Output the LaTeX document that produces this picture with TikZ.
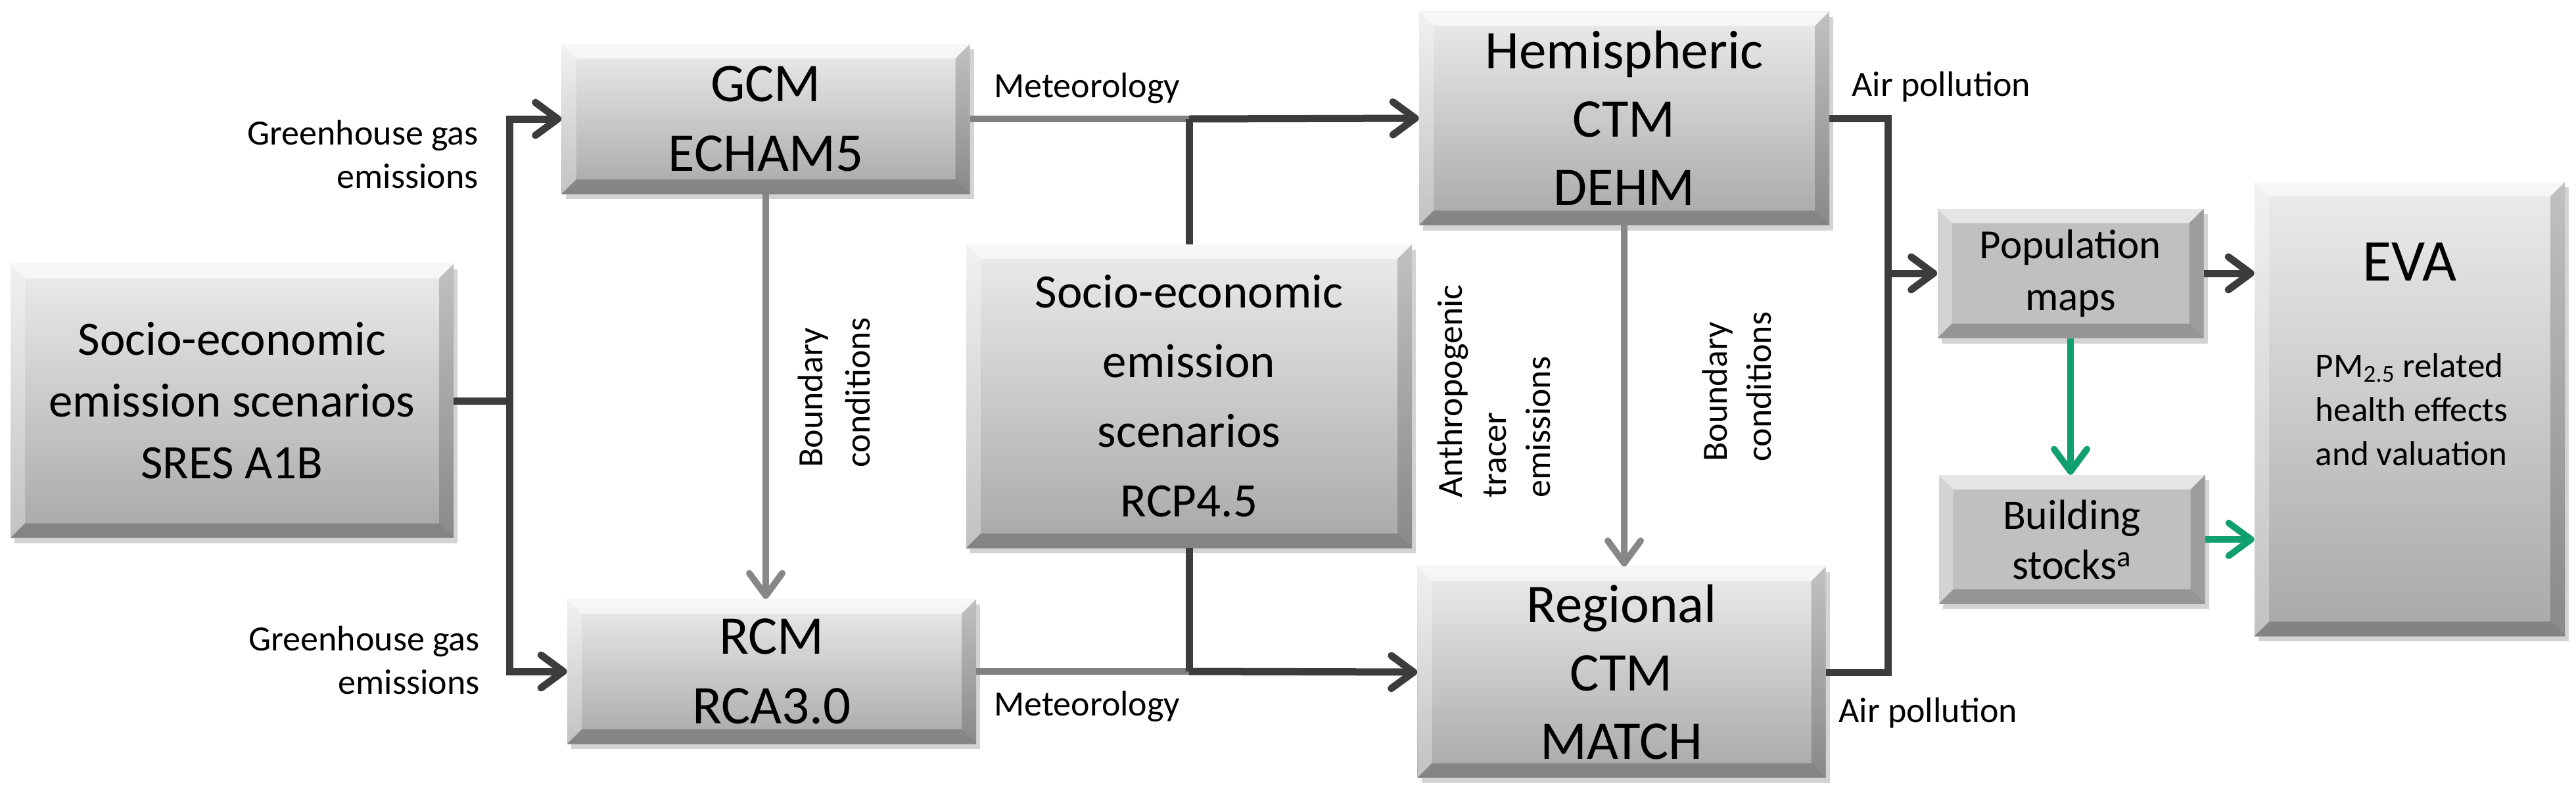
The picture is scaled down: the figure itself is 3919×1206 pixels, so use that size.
\documentclass[tikz,border=0pt]{standalone}
\usepackage{fontspec}
\setmainfont{Carlito}
\usetikzlibrary{arrows.meta,shadows,calc}
\definecolor{dkline}{RGB}{60,60,60}
\definecolor{grline}{RGB}{128,128,128}
\definecolor{bdline}{RGB}{135,135,135}
\definecolor{gnline}{RGB}{16,160,112}
\definecolor{boxtop}{RGB}{236,236,236}
\definecolor{boxbot}{RGB}{168,168,168}
\definecolor{flatbox}{RGB}{192,192,192}
\newcommand\bvw{11pt}
\tikzset{
  bevel/.style={path picture={
    \fill[white,opacity=.6] (path picture bounding box.north west) -- (path picture bounding box.north east)
      -- ($(path picture bounding box.north east)+(-\bvw,-\bvw)$) -- ($(path picture bounding box.north west)+(\bvw,-\bvw)$) -- cycle;
    \fill[white,opacity=.3] (path picture bounding box.north west) -- ($(path picture bounding box.north west)+(\bvw,-\bvw)$)
      -- ($(path picture bounding box.south west)+(\bvw,\bvw)$) -- (path picture bounding box.south west) -- cycle;
    \fill[black,opacity=.18] (path picture bounding box.north east) -- ($(path picture bounding box.north east)+(-\bvw,-\bvw)$)
      -- ($(path picture bounding box.south east)+(-\bvw,\bvw)$) -- (path picture bounding box.south east) -- cycle;
    \fill[black,opacity=.22] (path picture bounding box.south west) -- ($(path picture bounding box.south west)+(\bvw,\bvw)$)
      -- ($(path picture bounding box.south east)+(-\bvw,\bvw)$) -- (path picture bounding box.south east) -- cycle;
  }},
  mbox/.style={rectangle, inner sep=0pt, align=center, top color=boxtop, bottom color=boxbot, bevel,
    drop shadow={shadow xshift=3pt, shadow yshift=-4pt, opacity=.35}},
  fbox/.style={rectangle, inner sep=0pt, align=center, fill=flatbox, bevel,
    drop shadow={shadow xshift=3pt, shadow yshift=-4pt, opacity=.35}},
  bigtxt/.style={font=\fontsize{41.5}{53}\selectfont},
  midtxt/.style={font=\fontsize{36.5}{47}\selectfont},
  lab/.style={inner sep=0pt, font=\fontsize{27}{33}\selectfont},
  tip/.style={-{Straight Barb[length=17pt,width=25pt,round]}},
  dk/.style={draw=dkline, line width=5.5pt},
  gr/.style={draw=grline, line width=5pt},
  bd/.style={draw=bdline, line width=5pt},
  gn/.style={draw=gnline, line width=5pt},
}
\begin{document}
\begin{tikzpicture}[x=0.5pt,y=-0.5pt]
\useasboundingbox (0,0) rectangle (3919,1206);
% boxes
\node[mbox, midtxt, minimum width=337pt, minimum height=208.5pt] (sres) at (353,610)
  {Socio-economic\\emission scenarios\\SRES A1B};
\node[mbox, bigtxt, minimum width=310.5pt, minimum height=114pt] (gcm) at (1165,181) {GCM\\ECHAM5};
\node[mbox, bigtxt, minimum width=311pt, minimum height=110pt] (rcm) at (1174,1022) {RCM\\RCA3.0};
\node[mbox, midtxt, font=\fontsize{36.5}{53}\selectfont, minimum width=339pt, minimum height=231pt] (rcp) at (1809,603)
  {Socio-economic\\emission\\scenarios\\RCP4.5};
\node[mbox, bigtxt, font=\fontsize{41.5}{52}\selectfont, minimum width=312pt, minimum height=162.5pt] (hemi) at (2471,180)
  {Hemispheric\\CTM\\DEHM};
\node[mbox, bigtxt, font=\fontsize{41.5}{52}\selectfont, minimum width=310.5pt, minimum height=160.5pt] (reg) at (2467,1023)
  {Regional\\CTM\\MATCH};
\node[fbox, font=\fontsize{31.5}{39.5}\selectfont, minimum width=202.5pt, minimum height=98.5pt] (pop) at (3150,416)
  {Population\\maps};
\node[fbox, font=\fontsize{32}{38}\selectfont, minimum width=202.5pt, minimum height=98pt] (bld) at (3152,821)
  {Building\\stocks\textsuperscript{a}};
\node[mbox, minimum width=236pt, minimum height=345.5pt] (eva) at (3666,622.5) {};
\node[inner sep=0pt, font=\fontsize{45}{54}\selectfont] (evat) at (3666,399) {EVA};
\node[inner sep=0pt, align=left, font=\fontsize{26.5}{33.5}\selectfont] (evad) at (3669,623)
  {PM\textsubscript{2.5} related\\health effects\\and valuation};
% connector coordinates
\coordinate (tr) at (775,610);
\coordinate (mj1) at (rcp.north |- gcm.east);
\coordinate (mj2) at (rcp.south |- rcm.east);
\coordinate (apx) at (2872,416);
% connectors
\draw[dk] (sres.east) -- (tr);
\draw[dk, tip] (tr) |- (gcm.west);
\draw[dk, tip] (tr) |- (rcm.west);
\draw[gr] (gcm.east) -- (mj1);
\draw[dk, tip] (mj1) -- (hemi.west);
\draw[dk] (rcp.north) -- (mj1);
\draw[gr] (rcm.east) -- (mj2);
\draw[dk, tip] (mj2) -- (reg.west);
\draw[dk] (rcp.south) -- (mj2);
\draw[bd, tip] (gcm.south) -- (gcm.south |- rcm.north);
\draw[bd, tip] (hemi.south) -- (hemi.south |- reg.north);
\draw[dk] (hemi.east) -| (apx);
\draw[dk] (reg.east) -| (apx);
\draw[dk, tip] (apx) -- (pop.west);
\draw[dk, tip] (pop.east) -- (pop.east -| eva.west);
\draw[gn, tip] (pop.south) -- (pop.south |- bld.north);
\draw[gn, tip] (bld.east) -- (bld.east -| eva.west);
% labels
\node[lab, align=right, anchor=east] (ghg1) at (728,235) {Greenhouse gas\\emissions};
\node[lab, align=right, anchor=east] (ghg2) at (730,1005) {Greenhouse gas\\emissions};
\node[lab, anchor=west] (met1) at (1512,134) {Meteorology};
\node[lab, anchor=west] (met2) at (1512,1075) {Meteorology};
\node[lab, anchor=west] (air1) at (2817,132) {Air pollution};
\node[lab, anchor=west] (air2) at (2797,1085) {Air pollution};
\node[lab, rotate=90, anchor=west, align=left, font=\fontsize{27}{36}\selectfont] (bc1) at (1269,712) {Boundary\\conditions};
\node[lab, rotate=90, anchor=west, align=left, font=\fontsize{27}{33.5}\selectfont] (bc2) at (2642,703) {Boundary\\conditions};
\node[lab, rotate=90, anchor=west, align=left, font=\fontsize{27}{33.5}\selectfont] (ate) at (2273,758) {Anthropogenic\\tracer\\emissions};
\end{tikzpicture}
\end{document}
